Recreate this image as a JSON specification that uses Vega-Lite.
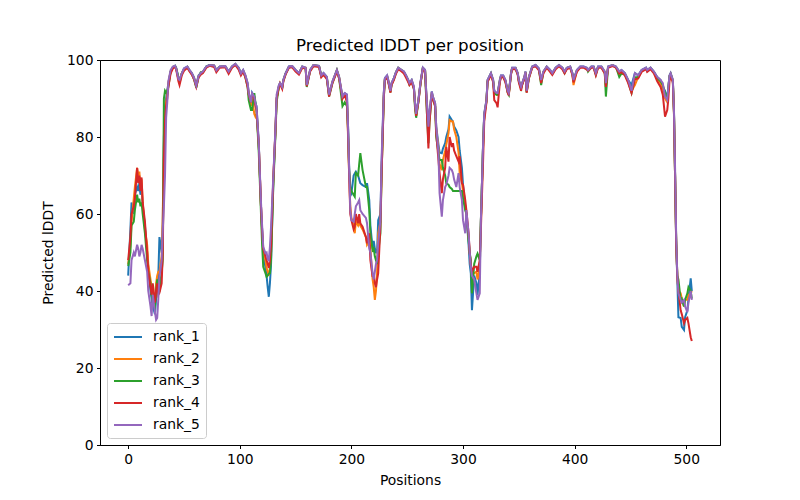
{
"$schema": "https://vega.github.io/schema/vega-lite/v6.json",
"width": 620, "height": 385,
"autosize": "none",
"padding": {"left": 100, "top": 60, "right": 80, "bottom": 55},
"background": "white",
"title": {"text": "Predicted lDDT per position", "font": "DejaVu Sans", "fontSize": 16.67, "fontWeight": "normal", "color": "black", "offset": -2},
"data": {"values": [
{"pos":0,"rank_1":44,"rank_2":47,"rank_3":46.5,"rank_4":48,"rank_5":41.5},
{"pos":2,"rank_1":56,"rank_2":52,"rank_3":50,"rank_4":54,"rank_5":42},
{"pos":3,"rank_1":63,"rank_2":58,"rank_3":57,"rank_4":60,"rank_5":48},
{"pos":5,"rank_1":60,"rank_2":64,"rank_3":58,"rank_4":62,"rank_5":50},
{"pos":6,"rank_1":65,"rank_2":67,"rank_3":61,"rank_4":64,"rank_5":49},
{"pos":8,"rank_1":67,"rank_2":72,"rank_3":65,"rank_4":72,"rank_5":52},
{"pos":9,"rank_1":66,"rank_2":70,"rank_3":63,"rank_4":68,"rank_5":51},
{"pos":10,"rank_1":68,"rank_2":71,"rank_3":64,"rank_4":70,"rank_5":49},
{"pos":11,"rank_1":65,"rank_2":67,"rank_3":62,"rank_4":66,"rank_5":50},
{"pos":12,"rank_1":67,"rank_2":69,"rank_3":63,"rank_4":69.5,"rank_5":52},
{"pos":13,"rank_1":62,"rank_2":63,"rank_3":60,"rank_4":63,"rank_5":51},
{"pos":15,"rank_1":57,"rank_2":56,"rank_3":55,"rank_4":58,"rank_5":48},
{"pos":17,"rank_1":50,"rank_2":52,"rank_3":48,"rank_4":50,"rank_5":45},
{"pos":18,"rank_1":46,"rank_2":47,"rank_3":45,"rank_4":45,"rank_5":40},
{"pos":20,"rank_1":40,"rank_2":43,"rank_3":42,"rank_4":41,"rank_5":36},
{"pos":21,"rank_1":38,"rank_2":41,"rank_3":39,"rank_4":39,"rank_5":33.5},
{"pos":22,"rank_1":36,"rank_2":40,"rank_3":37,"rank_4":42,"rank_5":39},
{"pos":24,"rank_1":34,"rank_2":38,"rank_3":36,"rank_4":37,"rank_5":34.5},
{"pos":25,"rank_1":38,"rank_2":42,"rank_3":40,"rank_4":40,"rank_5":32.5},
{"pos":26,"rank_1":41,"rank_2":44,"rank_3":43,"rank_4":42,"rank_5":33},
{"pos":27,"rank_1":44,"rank_2":45,"rank_3":40,"rank_4":39,"rank_5":38},
{"pos":28,"rank_1":54,"rank_2":45,"rank_3":40,"rank_4":39.5,"rank_5":43.6},
{"pos":30,"rank_1":50,"rank_2":49,"rank_3":45,"rank_4":42,"rank_5":48},
{"pos":31,"rank_1":58,"rank_2":60,"rank_3":48,"rank_4":50,"rank_5":56},
{"pos":32,"rank_1":80,"rank_2":78,"rank_3":90,"rank_4":74,"rank_5":62},
{"pos":33,"rank_1":88,"rank_2":86,"rank_3":92,"rank_4":84,"rank_5":70},
{"pos":34,"rank_1":90,"rank_2":89,"rank_3":91.5,"rank_4":88,"rank_5":85},
{"pos":35,"rank_1":92,"rank_2":91,"rank_3":92,"rank_4":90,"rank_5":89},
{"pos":36,"rank_1":94,"rank_2":94,"rank_3":93,"rank_4":93,"rank_5":94.5},
{"pos":38,"rank_1":97,"rank_2":97,"rank_3":97,"rank_4":96.5,"rank_5":97.4},
{"pos":40,"rank_1":98,"rank_2":98,"rank_3":98.2,"rank_4":97.8,"rank_5":98.3},
{"pos":42,"rank_1":98.5,"rank_2":98.4,"rank_3":98.5,"rank_4":98.2,"rank_5":98.5},
{"pos":43,"rank_1":98,"rank_2":97.8,"rank_3":97.8,"rank_4":97.5,"rank_5":97.8},
{"pos":45,"rank_1":95.5,"rank_2":95,"rank_3":95.5,"rank_4":94.5,"rank_5":95},
{"pos":46,"rank_1":94.5,"rank_2":94.5,"rank_3":94,"rank_4":93.5,"rank_5":94.8},
{"pos":48,"rank_1":96.5,"rank_2":96.5,"rank_3":96.5,"rank_4":96,"rank_5":96.5},
{"pos":50,"rank_1":97.8,"rank_2":97.5,"rank_3":97.5,"rank_4":97.2,"rank_5":97.8},
{"pos":53,"rank_1":98.3,"rank_2":98.2,"rank_3":98.2,"rank_4":98,"rank_5":98.3},
{"pos":55,"rank_1":97.4,"rank_2":97.2,"rank_3":97.2,"rank_4":97,"rank_5":97.4},
{"pos":57,"rank_1":96.6,"rank_2":96.4,"rank_3":96.4,"rank_4":96.2,"rank_5":96.6},
{"pos":59,"rank_1":95.5,"rank_2":95.2,"rank_3":95,"rank_4":95,"rank_5":95.3},
{"pos":61,"rank_1":93.5,"rank_2":93.2,"rank_3":92.8,"rank_4":93,"rank_5":93.3},
{"pos":63,"rank_1":96,"rank_2":95.7,"rank_3":95.5,"rank_4":95.4,"rank_5":95.8},
{"pos":65,"rank_1":96.6,"rank_2":96.5,"rank_3":96.8,"rank_4":96.2,"rank_5":96.6},
{"pos":67,"rank_1":97,"rank_2":96.8,"rank_3":96.8,"rank_4":96.6,"rank_5":97},
{"pos":70,"rank_1":98.3,"rank_2":98.2,"rank_3":98.3,"rank_4":98,"rank_5":98.3},
{"pos":73,"rank_1":98.7,"rank_2":98.6,"rank_3":98.7,"rank_4":98.5,"rank_5":98.7},
{"pos":77,"rank_1":98.6,"rank_2":98.5,"rank_3":98.5,"rank_4":98.2,"rank_5":98.6},
{"pos":79,"rank_1":97.4,"rank_2":97.2,"rank_3":97.2,"rank_4":96.8,"rank_5":97.3},
{"pos":82,"rank_1":98.3,"rank_2":98.2,"rank_3":98.2,"rank_4":98,"rank_5":98.3},
{"pos":87,"rank_1":98.4,"rank_2":98.3,"rank_3":98.3,"rank_4":98.1,"rank_5":98.4},
{"pos":90,"rank_1":97,"rank_2":96.8,"rank_3":96.8,"rank_4":96.4,"rank_5":97},
{"pos":93,"rank_1":98.3,"rank_2":98.2,"rank_3":98.2,"rank_4":98,"rank_5":98.3},
{"pos":96,"rank_1":99,"rank_2":98.9,"rank_3":98.9,"rank_4":98.7,"rank_5":99},
{"pos":99,"rank_1":98,"rank_2":97.8,"rank_3":97.8,"rank_4":97.5,"rank_5":98},
{"pos":101,"rank_1":96.6,"rank_2":96.4,"rank_3":96.4,"rank_4":96,"rank_5":96.5},
{"pos":103,"rank_1":97.4,"rank_2":97.2,"rank_3":97.2,"rank_4":97,"rank_5":97.4},
{"pos":105,"rank_1":96,"rank_2":95.8,"rank_3":95.5,"rank_4":95.5,"rank_5":96},
{"pos":107,"rank_1":94,"rank_2":93.5,"rank_3":93,"rank_4":93,"rank_5":94},
{"pos":108,"rank_1":91.5,"rank_2":91,"rank_3":89.5,"rank_4":91,"rank_5":91.4},
{"pos":110,"rank_1":88.8,"rank_2":88,"rank_3":87,"rank_4":89,"rank_5":89},
{"pos":111,"rank_1":91.5,"rank_2":90,"rank_3":87,"rank_4":91,"rank_5":91.4},
{"pos":113,"rank_1":90.5,"rank_2":86,"rank_3":91.4,"rank_4":90,"rank_5":90.5},
{"pos":114,"rank_1":88.8,"rank_2":85.3,"rank_3":89,"rank_4":88,"rank_5":88.8},
{"pos":115,"rank_1":88,"rank_2":86,"rank_3":87,"rank_4":87,"rank_5":87.9},
{"pos":117,"rank_1":78.4,"rank_2":78,"rank_3":76,"rank_4":78,"rank_5":78.4},
{"pos":119,"rank_1":62,"rank_2":62,"rank_3":60,"rank_4":62,"rank_5":63},
{"pos":120,"rank_1":56,"rank_2":55,"rank_3":52,"rank_4":56,"rank_5":57},
{"pos":121,"rank_1":50,"rank_2":50,"rank_3":46.3,"rank_4":51,"rank_5":51.5},
{"pos":123,"rank_1":46,"rank_2":48,"rank_3":44.6,"rank_4":49,"rank_5":49.8},
{"pos":124,"rank_1":44,"rank_2":46,"rank_3":43.7,"rank_4":48,"rank_5":50},
{"pos":125,"rank_1":41,"rank_2":45,"rank_3":44,"rank_4":47,"rank_5":48.3},
{"pos":126,"rank_1":38.5,"rank_2":44,"rank_3":44.5,"rank_4":46,"rank_5":48},
{"pos":127,"rank_1":42,"rank_2":46,"rank_3":44.6,"rank_4":48,"rank_5":51.5},
{"pos":128,"rank_1":47,"rank_2":50,"rank_3":48.3,"rank_4":52,"rank_5":56.7},
{"pos":130,"rank_1":68,"rank_2":69,"rank_3":67,"rank_4":69,"rank_5":69.6},
{"pos":132,"rank_1":82,"rank_2":82,"rank_3":81,"rank_4":82,"rank_5":82.7},
{"pos":133,"rank_1":90,"rank_2":90,"rank_3":89,"rank_4":90,"rank_5":91},
{"pos":135,"rank_1":93.3,"rank_2":93,"rank_3":93,"rank_4":93,"rank_5":93.5},
{"pos":136,"rank_1":94,"rank_2":94,"rank_3":93.8,"rank_4":93.8,"rank_5":94},
{"pos":138,"rank_1":93,"rank_2":92.8,"rank_3":92.8,"rank_4":92.5,"rank_5":93},
{"pos":139,"rank_1":94.8,"rank_2":94.6,"rank_3":94.6,"rank_4":94.4,"rank_5":94.8},
{"pos":141,"rank_1":96.5,"rank_2":96.4,"rank_3":96.4,"rank_4":96.2,"rank_5":96.5},
{"pos":144,"rank_1":98.3,"rank_2":98.2,"rank_3":98.2,"rank_4":98,"rank_5":98.3},
{"pos":147,"rank_1":98.4,"rank_2":98.3,"rank_3":98.3,"rank_4":98.1,"rank_5":98.4},
{"pos":150,"rank_1":97.4,"rank_2":97.2,"rank_3":97.3,"rank_4":97,"rank_5":97.4},
{"pos":153,"rank_1":96.6,"rank_2":96.5,"rank_3":96.5,"rank_4":96.2,"rank_5":96.6},
{"pos":156,"rank_1":98.3,"rank_2":98.2,"rank_3":98.2,"rank_4":98,"rank_5":98.3},
{"pos":159,"rank_1":98,"rank_2":98,"rank_3":97.8,"rank_4":97.8,"rank_5":98},
{"pos":160,"rank_1":93.5,"rank_2":93.5,"rank_3":93,"rank_4":93.2,"rank_5":93.5},
{"pos":163,"rank_1":97.4,"rank_2":97.3,"rank_3":97.2,"rank_4":97,"rank_5":97.4},
{"pos":166,"rank_1":98.7,"rank_2":98.6,"rank_3":98.6,"rank_4":98.4,"rank_5":98.7},
{"pos":171,"rank_1":98.5,"rank_2":98.4,"rank_3":98.4,"rank_4":98.2,"rank_5":98.5},
{"pos":173,"rank_1":96,"rank_2":95.8,"rank_3":95.8,"rank_4":95.5,"rank_5":96},
{"pos":175,"rank_1":96.6,"rank_2":96.4,"rank_3":96.4,"rank_4":96.2,"rank_5":96.6},
{"pos":178,"rank_1":95.6,"rank_2":95.4,"rank_3":95.2,"rank_4":95,"rank_5":95.6},
{"pos":180,"rank_1":91,"rank_2":91,"rank_3":90.5,"rank_4":90.5,"rank_5":91},
{"pos":183,"rank_1":94.4,"rank_2":94.2,"rank_3":94,"rank_4":94,"rank_5":94.4},
{"pos":187,"rank_1":97.4,"rank_2":97.3,"rank_3":97.3,"rank_4":97,"rank_5":97.4},
{"pos":189,"rank_1":95.6,"rank_2":95.5,"rank_3":95.2,"rank_4":95.2,"rank_5":95.6},
{"pos":192,"rank_1":90.5,"rank_2":90,"rank_3":88,"rank_4":90,"rank_5":90.5},
{"pos":194,"rank_1":91.4,"rank_2":91,"rank_3":89,"rank_4":91,"rank_5":91.4},
{"pos":196,"rank_1":91,"rank_2":90,"rank_3":88,"rank_4":89,"rank_5":91},
{"pos":197,"rank_1":82.7,"rank_2":80,"rank_3":82,"rank_4":81,"rank_5":82.7},
{"pos":198,"rank_1":72,"rank_2":70,"rank_3":71,"rank_4":70,"rank_5":71.4},
{"pos":199,"rank_1":66,"rank_2":62,"rank_3":67,"rank_4":60,"rank_5":61},
{"pos":200,"rank_1":65.4,"rank_2":59,"rank_3":66,"rank_4":58.4,"rank_5":58.4},
{"pos":202,"rank_1":70,"rank_2":57,"rank_3":65,"rank_4":56,"rank_5":58},
{"pos":203,"rank_1":70.5,"rank_2":55,"rank_3":64.5,"rank_4":56.7,"rank_5":60},
{"pos":204,"rank_1":71,"rank_2":58,"rank_3":70.6,"rank_4":60,"rank_5":62},
{"pos":206,"rank_1":70,"rank_2":57,"rank_3":70,"rank_4":57.6,"rank_5":63},
{"pos":207,"rank_1":69,"rank_2":58,"rank_3":73,"rank_4":60,"rank_5":63.6},
{"pos":208,"rank_1":68,"rank_2":57,"rank_3":75.8,"rank_4":57.6,"rank_5":61},
{"pos":210,"rank_1":67.5,"rank_2":56,"rank_3":71.4,"rank_4":56.7,"rank_5":60},
{"pos":213,"rank_1":67,"rank_2":54,"rank_3":67,"rank_4":54,"rank_5":59},
{"pos":214,"rank_1":68,"rank_2":52,"rank_3":67,"rank_4":52.4,"rank_5":57.6},
{"pos":216,"rank_1":63.6,"rank_2":53,"rank_3":61,"rank_4":55,"rank_5":51},
{"pos":217,"rank_1":57,"rank_2":51,"rank_3":55,"rank_4":48,"rank_5":50},
{"pos":219,"rank_1":51,"rank_2":43,"rank_3":50.6,"rank_4":43.7,"rank_5":44.6},
{"pos":220,"rank_1":53,"rank_2":41,"rank_3":51,"rank_4":44.6,"rank_5":43},
{"pos":221,"rank_1":51,"rank_2":37.7,"rank_3":49,"rank_4":42,"rank_5":45},
{"pos":222,"rank_1":50,"rank_2":40,"rank_3":48,"rank_4":41,"rank_5":47},
{"pos":223,"rank_1":50,"rank_2":44.6,"rank_3":47,"rank_4":43,"rank_5":48},
{"pos":224,"rank_1":58.4,"rank_2":55,"rank_3":50,"rank_4":44.6,"rank_5":52.4},
{"pos":226,"rank_1":60,"rank_2":58,"rank_3":55,"rank_4":57,"rank_5":58.4},
{"pos":227,"rank_1":72,"rank_2":70,"rank_3":70,"rank_4":70,"rank_5":74},
{"pos":229,"rank_1":91.4,"rank_2":91,"rank_3":90,"rank_4":90,"rank_5":91.4},
{"pos":230,"rank_1":95.3,"rank_2":95,"rank_3":95,"rank_4":94.8,"rank_5":95.3},
{"pos":232,"rank_1":96,"rank_2":95.8,"rank_3":95.6,"rank_4":95.5,"rank_5":96},
{"pos":233,"rank_1":94.8,"rank_2":94.6,"rank_3":94.5,"rank_4":94.3,"rank_5":94.8},
{"pos":235,"rank_1":92,"rank_2":92,"rank_3":91.6,"rank_4":91.5,"rank_5":92},
{"pos":236,"rank_1":94,"rank_2":93.8,"rank_3":93.6,"rank_4":93.5,"rank_5":94},
{"pos":238,"rank_1":95.3,"rank_2":95,"rank_3":95,"rank_4":94.8,"rank_5":95.3},
{"pos":240,"rank_1":96.9,"rank_2":96.8,"rank_3":96.8,"rank_4":96.5,"rank_5":96.9},
{"pos":242,"rank_1":98,"rank_2":97.9,"rank_3":97.9,"rank_4":97.6,"rank_5":98},
{"pos":245,"rank_1":97.4,"rank_2":97.3,"rank_3":97.3,"rank_4":97,"rank_5":97.4},
{"pos":247,"rank_1":97,"rank_2":96.8,"rank_3":96.8,"rank_4":96.5,"rank_5":97},
{"pos":249,"rank_1":96,"rank_2":95.8,"rank_3":95.8,"rank_4":95.4,"rank_5":96},
{"pos":251,"rank_1":94.8,"rank_2":94.6,"rank_3":94.5,"rank_4":94.2,"rank_5":94.8},
{"pos":252,"rank_1":94,"rank_2":93.8,"rank_3":93.6,"rank_4":93.5,"rank_5":94},
{"pos":254,"rank_1":94.8,"rank_2":94.6,"rank_3":94.5,"rank_4":94.2,"rank_5":94.8},
{"pos":256,"rank_1":93,"rank_2":92.8,"rank_3":92.5,"rank_4":92.5,"rank_5":93},
{"pos":257,"rank_1":88.8,"rank_2":88.5,"rank_3":87.5,"rank_4":88.3,"rank_5":88.8},
{"pos":258,"rank_1":86,"rank_2":85.5,"rank_3":85,"rank_4":85.5,"rank_5":86},
{"pos":260,"rank_1":89.6,"rank_2":89.3,"rank_3":89,"rank_4":89,"rank_5":89.6},
{"pos":261,"rank_1":92,"rank_2":91.8,"rank_3":91.6,"rank_4":91.5,"rank_5":92},
{"pos":262,"rank_1":94.4,"rank_2":94.2,"rank_3":94,"rank_4":94,"rank_5":94.4},
{"pos":264,"rank_1":98,"rank_2":97.9,"rank_3":97.9,"rank_4":97.6,"rank_5":98},
{"pos":266,"rank_1":97.4,"rank_2":97.3,"rank_3":97.3,"rank_4":97,"rank_5":97.4},
{"pos":267,"rank_1":92,"rank_2":91.5,"rank_3":90,"rank_4":91,"rank_5":92},
{"pos":269,"rank_1":82.7,"rank_2":81,"rank_3":78.4,"rank_4":77,"rank_5":82.7},
{"pos":270,"rank_1":86.5,"rank_2":86,"rank_3":84,"rank_4":84,"rank_5":86.5},
{"pos":272,"rank_1":91.8,"rank_2":91.5,"rank_3":91,"rank_4":91,"rank_5":91.8},
{"pos":273,"rank_1":90.5,"rank_2":90.3,"rank_3":90,"rank_4":90,"rank_5":90.5},
{"pos":275,"rank_1":88.8,"rank_2":88.5,"rank_3":88,"rank_4":88,"rank_5":88.8},
{"pos":276,"rank_1":82.7,"rank_2":82,"rank_3":80,"rank_4":81,"rank_5":82.7},
{"pos":278,"rank_1":78,"rank_2":77,"rank_3":75.8,"rank_4":74,"rank_5":75.8},
{"pos":279,"rank_1":76,"rank_2":73,"rank_3":74,"rank_4":70.6,"rank_5":65.4},
{"pos":281,"rank_1":75.8,"rank_2":71.4,"rank_3":74,"rank_4":65.4,"rank_5":59.3},
{"pos":282,"rank_1":77,"rank_2":74,"rank_3":72,"rank_4":69,"rank_5":63.6},
{"pos":284,"rank_1":78.4,"rank_2":76.5,"rank_3":70,"rank_4":72,"rank_5":67},
{"pos":285,"rank_1":80,"rank_2":78,"rank_3":68,"rank_4":77.4,"rank_5":67.6},
{"pos":287,"rank_1":82,"rank_2":81,"rank_3":67.6,"rank_4":73.6,"rank_5":70},
{"pos":288,"rank_1":85.3,"rank_2":84.4,"rank_3":67,"rank_4":80,"rank_5":72},
{"pos":290,"rank_1":84.4,"rank_2":84,"rank_3":66.5,"rank_4":77.4,"rank_5":71.4},
{"pos":291,"rank_1":84,"rank_2":84,"rank_3":66,"rank_4":78.4,"rank_5":70.6},
{"pos":292,"rank_1":82.7,"rank_2":82,"rank_3":66,"rank_4":76.5,"rank_5":69},
{"pos":294,"rank_1":81.7,"rank_2":80,"rank_3":66,"rank_4":75,"rank_5":67},
{"pos":296,"rank_1":80,"rank_2":76,"rank_3":66,"rank_4":73.6,"rank_5":70.6},
{"pos":297,"rank_1":76.5,"rank_2":70.6,"rank_3":66,"rank_4":75,"rank_5":67},
{"pos":299,"rank_1":72,"rank_2":68,"rank_3":66,"rank_4":68,"rank_5":63.6},
{"pos":300,"rank_1":67.6,"rank_2":66,"rank_3":64,"rank_4":67.6,"rank_5":58.4},
{"pos":302,"rank_1":62,"rank_2":62,"rank_3":61,"rank_4":63.6,"rank_5":55},
{"pos":303,"rank_1":60,"rank_2":60,"rank_3":60,"rank_4":61,"rank_5":61},
{"pos":305,"rank_1":52,"rank_2":54,"rank_3":53,"rank_4":55,"rank_5":55},
{"pos":306,"rank_1":47,"rank_2":50,"rank_3":50,"rank_4":50,"rank_5":50},
{"pos":307,"rank_1":44.6,"rank_2":47,"rank_3":48,"rank_4":47,"rank_5":46.3},
{"pos":308,"rank_1":35,"rank_2":44,"rank_3":39.4,"rank_4":45,"rank_5":44},
{"pos":310,"rank_1":44,"rank_2":44.6,"rank_3":47,"rank_4":46.3,"rank_5":43},
{"pos":312,"rank_1":42,"rank_2":45,"rank_3":49,"rank_4":46.3,"rank_5":39.4},
{"pos":313,"rank_1":39,"rank_2":43,"rank_3":49.7,"rank_4":45,"rank_5":37.7},
{"pos":315,"rank_1":45,"rank_2":46,"rank_3":48,"rank_4":48,"rank_5":39.4},
{"pos":316,"rank_1":58,"rank_2":58,"rank_3":58.4,"rank_4":56,"rank_5":58.4},
{"pos":318,"rank_1":78.4,"rank_2":78,"rank_3":78,"rank_4":74,"rank_5":78.4},
{"pos":319,"rank_1":86,"rank_2":85.5,"rank_3":85.5,"rank_4":84,"rank_5":86},
{"pos":321,"rank_1":89.6,"rank_2":89.3,"rank_3":89.3,"rank_4":89,"rank_5":89.6},
{"pos":322,"rank_1":94.8,"rank_2":94.6,"rank_3":94.5,"rank_4":94.3,"rank_5":94.8},
{"pos":324,"rank_1":96,"rank_2":95.8,"rank_3":95.8,"rank_4":95.5,"rank_5":96},
{"pos":325,"rank_1":96.6,"rank_2":96.4,"rank_3":96.4,"rank_4":96.2,"rank_5":96.6},
{"pos":327,"rank_1":94.8,"rank_2":94.6,"rank_3":94.5,"rank_4":94.2,"rank_5":94.8},
{"pos":328,"rank_1":92,"rank_2":91.5,"rank_3":91.5,"rank_4":89.6,"rank_5":92},
{"pos":330,"rank_1":91.4,"rank_2":91,"rank_3":91,"rank_4":88.8,"rank_5":91.4},
{"pos":331,"rank_1":91.4,"rank_2":91,"rank_3":91,"rank_4":87.7,"rank_5":91.4},
{"pos":333,"rank_1":94.8,"rank_2":94.6,"rank_3":94.5,"rank_4":94.2,"rank_5":94.8},
{"pos":334,"rank_1":96,"rank_2":95.8,"rank_3":95.8,"rank_4":95.5,"rank_5":96},
{"pos":336,"rank_1":96,"rank_2":95.8,"rank_3":95.8,"rank_4":95.5,"rank_5":96},
{"pos":338,"rank_1":94.8,"rank_2":94.6,"rank_3":94.5,"rank_4":94.2,"rank_5":94.8},
{"pos":340,"rank_1":92,"rank_2":91.8,"rank_3":91.6,"rank_4":91.5,"rank_5":92},
{"pos":341,"rank_1":91.4,"rank_2":91.2,"rank_3":91,"rank_4":90.8,"rank_5":91.4},
{"pos":343,"rank_1":96.6,"rank_2":96.5,"rank_3":96.4,"rank_4":96.2,"rank_5":96.6},
{"pos":344,"rank_1":98,"rank_2":97.9,"rank_3":97.9,"rank_4":97.6,"rank_5":98},
{"pos":347,"rank_1":98,"rank_2":97.9,"rank_3":97.9,"rank_4":97.6,"rank_5":98},
{"pos":349,"rank_1":96.6,"rank_2":96.5,"rank_3":96.4,"rank_4":96.2,"rank_5":96.6},
{"pos":350,"rank_1":94.8,"rank_2":94.6,"rank_3":94.5,"rank_4":94.2,"rank_5":94.8},
{"pos":352,"rank_1":93,"rank_2":92.8,"rank_3":92.6,"rank_4":92,"rank_5":93},
{"pos":353,"rank_1":94,"rank_2":93.8,"rank_3":93.6,"rank_4":93.5,"rank_5":94},
{"pos":355,"rank_1":95.6,"rank_2":95.5,"rank_3":95.3,"rank_4":95.2,"rank_5":95.6},
{"pos":356,"rank_1":97,"rank_2":96.9,"rank_3":96.8,"rank_4":96.6,"rank_5":97},
{"pos":357,"rank_1":92,"rank_2":91.8,"rank_3":91.6,"rank_4":91.5,"rank_5":92},
{"pos":359,"rank_1":95.6,"rank_2":95.5,"rank_3":95.3,"rank_4":95.2,"rank_5":95.6},
{"pos":362,"rank_1":98.3,"rank_2":98.2,"rank_3":98.2,"rank_4":98,"rank_5":98.3},
{"pos":365,"rank_1":98.7,"rank_2":98.6,"rank_3":98.6,"rank_4":98.4,"rank_5":98.7},
{"pos":368,"rank_1":97.8,"rank_2":97.6,"rank_3":97.6,"rank_4":97.3,"rank_5":97.8},
{"pos":370,"rank_1":94.8,"rank_2":94.5,"rank_3":93.5,"rank_4":94,"rank_5":94.8},
{"pos":372,"rank_1":97,"rank_2":96.8,"rank_3":96.8,"rank_4":96.5,"rank_5":97},
{"pos":375,"rank_1":98.3,"rank_2":98.2,"rank_3":98.2,"rank_4":98,"rank_5":98.3},
{"pos":378,"rank_1":97.4,"rank_2":97.2,"rank_3":97.2,"rank_4":96.9,"rank_5":97.4},
{"pos":380,"rank_1":96.6,"rank_2":96.4,"rank_3":96.4,"rank_4":96.1,"rank_5":96.6},
{"pos":383,"rank_1":98,"rank_2":97.9,"rank_3":97.9,"rank_4":97.6,"rank_5":98},
{"pos":386,"rank_1":98.7,"rank_2":98.6,"rank_3":98.6,"rank_4":98.4,"rank_5":98.7},
{"pos":389,"rank_1":98,"rank_2":97.9,"rank_3":97.9,"rank_4":97.6,"rank_5":98},
{"pos":391,"rank_1":97,"rank_2":96.8,"rank_3":96.6,"rank_4":96.5,"rank_5":97},
{"pos":393,"rank_1":98,"rank_2":97.9,"rank_3":97.9,"rank_4":97.6,"rank_5":98},
{"pos":396,"rank_1":98.3,"rank_2":98.2,"rank_3":98.2,"rank_4":98,"rank_5":98.3},
{"pos":398,"rank_1":96.6,"rank_2":96.2,"rank_3":96.4,"rank_4":96.1,"rank_5":96.6},
{"pos":399,"rank_1":94.8,"rank_2":93.5,"rank_3":94.5,"rank_4":94.2,"rank_5":94.8},
{"pos":402,"rank_1":97.4,"rank_2":97.2,"rank_3":97.2,"rank_4":96.9,"rank_5":97.4},
{"pos":405,"rank_1":98.3,"rank_2":98.2,"rank_3":98.2,"rank_4":98,"rank_5":98.3},
{"pos":408,"rank_1":98.3,"rank_2":98.2,"rank_3":98.2,"rank_4":98,"rank_5":98.3},
{"pos":411,"rank_1":98,"rank_2":97.8,"rank_3":97.8,"rank_4":97.5,"rank_5":98},
{"pos":412,"rank_1":97.4,"rank_2":97.3,"rank_3":97,"rank_4":97.2,"rank_5":97.4},
{"pos":415,"rank_1":98.3,"rank_2":98.2,"rank_3":98.2,"rank_4":98,"rank_5":98.3},
{"pos":417,"rank_1":98.3,"rank_2":98.2,"rank_3":98.2,"rank_4":98,"rank_5":98.3},
{"pos":419,"rank_1":96.6,"rank_2":96.4,"rank_3":96.2,"rank_4":96,"rank_5":96.6},
{"pos":421,"rank_1":98.3,"rank_2":98.2,"rank_3":98.2,"rank_4":98,"rank_5":98.3},
{"pos":424,"rank_1":98.3,"rank_2":98.2,"rank_3":98.2,"rank_4":98,"rank_5":98.3},
{"pos":427,"rank_1":97,"rank_2":96.8,"rank_3":96.6,"rank_4":96.5,"rank_5":97},
{"pos":428,"rank_1":94,"rank_2":93.5,"rank_3":90.5,"rank_4":93,"rank_5":94},
{"pos":430,"rank_1":98.3,"rank_2":98.2,"rank_3":98.2,"rank_4":98,"rank_5":98.3},
{"pos":434,"rank_1":98.7,"rank_2":98.6,"rank_3":98.6,"rank_4":98.4,"rank_5":98.7},
{"pos":437,"rank_1":98.3,"rank_2":98.2,"rank_3":98.2,"rank_4":98,"rank_5":98.3},
{"pos":440,"rank_1":97,"rank_2":96.8,"rank_3":95.6,"rank_4":96.5,"rank_5":97},
{"pos":442,"rank_1":97.4,"rank_2":97.2,"rank_3":96.5,"rank_4":96.9,"rank_5":97.4},
{"pos":445,"rank_1":96.6,"rank_2":96.4,"rank_3":96.2,"rank_4":96,"rank_5":96.6},
{"pos":448,"rank_1":94.8,"rank_2":94.5,"rank_3":94.3,"rank_4":94,"rank_5":94.8},
{"pos":451,"rank_1":93.5,"rank_2":92,"rank_3":91.5,"rank_4":91.4,"rank_5":92},
{"pos":454,"rank_1":96.6,"rank_2":93.5,"rank_3":95.5,"rank_4":95,"rank_5":96.6},
{"pos":457,"rank_1":96,"rank_2":95.6,"rank_3":95.6,"rank_4":95.2,"rank_5":96},
{"pos":460,"rank_1":97.4,"rank_2":97.2,"rank_3":97.2,"rank_4":96.9,"rank_5":97.4},
{"pos":464,"rank_1":98,"rank_2":97.9,"rank_3":97.9,"rank_4":97.6,"rank_5":98},
{"pos":465,"rank_1":97.4,"rank_2":97.2,"rank_3":97.2,"rank_4":96.9,"rank_5":97.4},
{"pos":468,"rank_1":98,"rank_2":97.9,"rank_3":97.9,"rank_4":97.6,"rank_5":98},
{"pos":471,"rank_1":97,"rank_2":96.8,"rank_3":96.8,"rank_4":96.5,"rank_5":97},
{"pos":474,"rank_1":95.6,"rank_2":95,"rank_3":95.3,"rank_4":94.5,"rank_5":95.6},
{"pos":477,"rank_1":94.8,"rank_2":94,"rank_3":94.5,"rank_4":93,"rank_5":94.8},
{"pos":479,"rank_1":93,"rank_2":92.5,"rank_3":93.5,"rank_4":91,"rank_5":94},
{"pos":481,"rank_1":92,"rank_2":90,"rank_3":91.5,"rank_4":85.3,"rank_5":90.5},
{"pos":483,"rank_1":90,"rank_2":89,"rank_3":90,"rank_4":87,"rank_5":89.6},
{"pos":484,"rank_1":93,"rank_2":92.5,"rank_3":92.8,"rank_4":90,"rank_5":93},
{"pos":485,"rank_1":96,"rank_2":95.8,"rank_3":95.8,"rank_4":94.5,"rank_5":96},
{"pos":486,"rank_1":96.6,"rank_2":96.4,"rank_3":96.4,"rank_4":96,"rank_5":96.6},
{"pos":488,"rank_1":94.8,"rank_2":94.6,"rank_3":94.5,"rank_4":94.2,"rank_5":94.8},
{"pos":489,"rank_1":87,"rank_2":86.5,"rank_3":86.5,"rank_4":86,"rank_5":87},
{"pos":490,"rank_1":70,"rank_2":70,"rank_3":70,"rank_4":70,"rank_5":72},
{"pos":491,"rank_1":52.4,"rank_2":53,"rank_3":53,"rank_4":52,"rank_5":54},
{"pos":492,"rank_1":43,"rank_2":44,"rank_3":44,"rank_4":43.7,"rank_5":44},
{"pos":493,"rank_1":33.2,"rank_2":40,"rank_3":43,"rank_4":40,"rank_5":39.4},
{"pos":495,"rank_1":33,"rank_2":39.4,"rank_3":37.7,"rank_4":35,"rank_5":37.7},
{"pos":496,"rank_1":30.7,"rank_2":38,"rank_3":38,"rank_4":34,"rank_5":37},
{"pos":498,"rank_1":29.9,"rank_2":36,"rank_3":36,"rank_4":31.6,"rank_5":37.7},
{"pos":499,"rank_1":33.2,"rank_2":37.7,"rank_3":37.7,"rank_4":32.5,"rank_5":36},
{"pos":501,"rank_1":35,"rank_2":37.7,"rank_3":39.4,"rank_4":33,"rank_5":34.5},
{"pos":502,"rank_1":38,"rank_2":39,"rank_3":41,"rank_4":31.6,"rank_5":37},
{"pos":504,"rank_1":43.3,"rank_2":39.4,"rank_3":40,"rank_4":28,"rank_5":40},
{"pos":505,"rank_1":40,"rank_2":40,"rank_3":38,"rank_4":27,"rank_5":37.7}
]},
"transform": [{"fold": ["rank_1","rank_2","rank_3","rank_4","rank_5"], "as": ["model","lddt"]}],
"mark": {"type": "line", "strokeWidth": 2, "clip": true},
"encoding": {
"x": {"field": "pos", "type": "quantitative", "title": "Positions",
 "scale": {"domain": [-25.25, 530.25], "nice": false, "zero": false},
 "axis": {"values": [0,100,200,300,400,500], "titlePadding": 8}},
"y": {"field": "lddt", "type": "quantitative", "title": "Predicted lDDT",
 "scale": {"domain": [0, 100], "nice": false},
 "axis": {"values": [0,20,40,60,80,100], "titlePadding": 11}},
"color": {"field": "model", "type": "nominal",
 "scale": {"domain": ["rank_1","rank_2","rank_3","rank_4","rank_5"], "range": ["#1f77b4","#ff7f0e","#2ca02c","#d62728","#9467bd"]},
 "legend": {"title": null, "orient": "bottom-left", "offset": 7, "padding": 6,
  "strokeColor": "#cccccc", "fillColor": "white", "cornerRadius": 3,
  "symbolType": "M-1,0L3,0", "symbolSize": 196, "symbolStrokeWidth": 2,
  "labelFont": "DejaVu Sans", "labelFontSize": 13.89, "labelColor": "black", "labelOffset": 24, "rowPadding": 7}}
},
"config": {
"view": {"stroke": "black", "strokeWidth": 1},
"axis": {"grid": false, "domainColor": "black", "domainWidth": 1, "tickColor": "black", "tickSize": 3.5, "tickWidth": 1,
 "labelFont": "DejaVu Sans", "labelFontSize": 13.89, "labelColor": "black", "labelPadding": 3.5,
 "titleFont": "DejaVu Sans", "titleFontSize": 13.89, "titleFontWeight": "normal", "titleColor": "black"}
}
}
